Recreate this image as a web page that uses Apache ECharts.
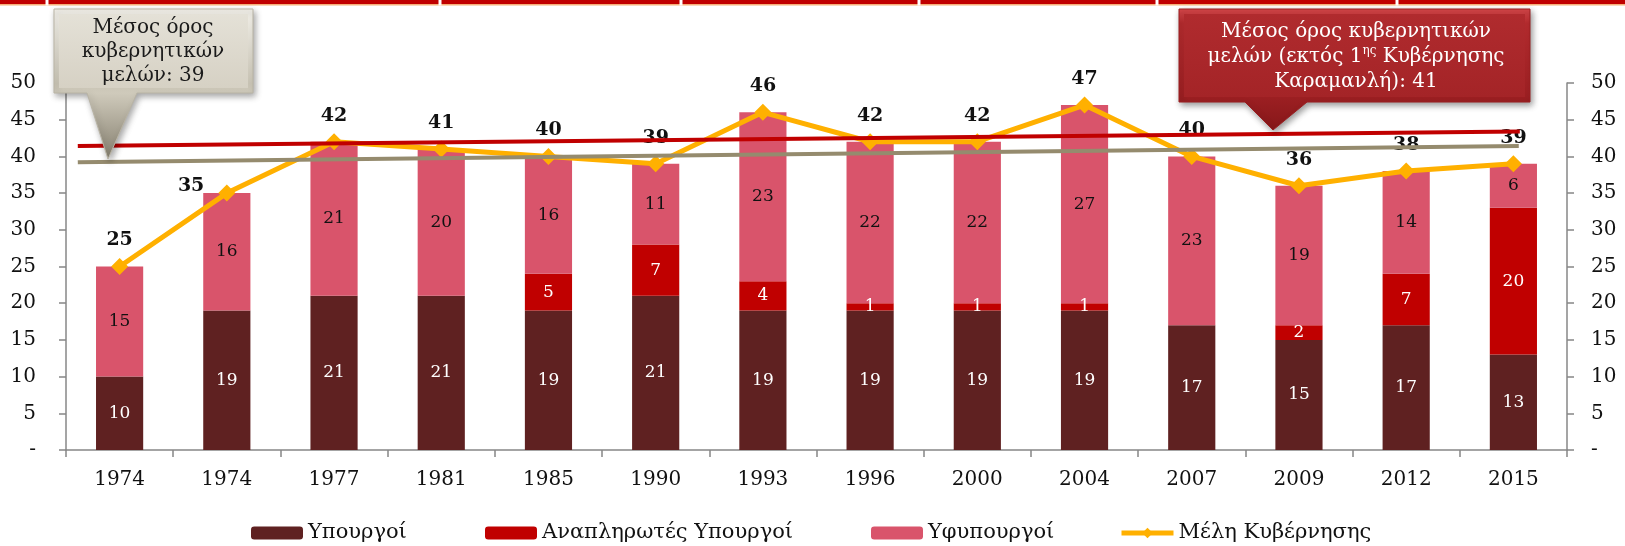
<!DOCTYPE html>
<html><head><meta charset="utf-8">
<script src="https://cdn.jsdelivr.net/npm/echarts@6/dist/echarts.min.js"></script>
<style>html,body{margin:0;padding:0;background:#fff}#c{width:1625px;height:546px}</style>
</head><body><div id="c"></div>
<script>
// ---- data ----
const categories = ['1974','1974','1977','1981','1985','1990','1993','1996','2000','2004','2007','2009','2012','2015'];
const ministers = [10,19,21,21,19,21,19,19,19,19,17,15,17,13];
const alternateMinisters = [0,0,0,0,5,7,4,1,1,1,0,2,7,20];
const deputyMinisters = [15,16,21,20,16,11,23,22,22,27,23,19,14,6];
const governmentMembers = [25,35,42,41,40,39,46,42,42,47,40,36,38,39];
const avgAllLine = [[0.11,39.2],[13.55,41.4]];     // drawn average line (all governments)
const avgExclLine = [[0.11,41.4],[13.56,43.4]];    // drawn average line (excl. 1st Karamanlis)
const seriesNames = ['Υπουργοί','Αναπληρωτές Υπουργοί','Υφυπουργοί','Μέλη Κυβέρνησης'];
const yTickLabel = v => v === 0 ? '-' : String(v);

const FONT = 'DejaVu Serif';
const chart = echarts.init(document.getElementById('c'), null, {renderer:'canvas'});

// per-point label placement (layout only)
const labelOverride = {1: {position:'left', distance:14, offset:[0,-7]}};
const totalData = governmentMembers.map((v,i) => labelOverride[i] ? {value:v, label:labelOverride[i]} : v);

const axisGray = '#878787';
const yAxisCommon = {
  type:'value', min:0, max:50, interval:5,
  axisLine:{show:true, lineStyle:{color:axisGray, width:1.5}},
  axisTick:{show:true, length:7, lineStyle:{color:axisGray, width:1.5}},
  splitLine:{show:false},
  axisLabel:{formatter:yTickLabel, color:'#111', fontFamily:FONT, fontSize:20}
};

function legendAt(name, left){
  return {data:[name], left:left, top:521, padding:0, itemWidth:52, itemHeight:13, itemGap:0,
    lineStyle:{width:5}, textStyle:{fontFamily:FONT, fontSize:21, color:'#111', lineHeight:24}, selectedMode:false};
}

const option = {
  animation:false,
  backgroundColor:'#fff',
  grid:{left:66, right:58, top:83, bottom:96, containLabel:false},
  legend:[
    legendAt(seriesNames[0], 251),
    legendAt(seriesNames[1], 485),
    legendAt(seriesNames[2], 871),
    legendAt(seriesNames[3], 1119)
  ],
  xAxis:[
    {type:'category', data:categories, boundaryGap:true,
     axisLine:{show:true, lineStyle:{color:axisGray, width:1.5}},
     axisTick:{show:true, length:7, alignWithLabel:false, lineStyle:{color:axisGray, width:1.5}},
     axisLabel:{color:'#111', fontFamily:FONT, fontSize:20, margin:20}},
    {type:'value', min:0, max:14, show:false}
  ],
  yAxis:[
    Object.assign({}, yAxisCommon, {position:'left', axisLabel:Object.assign({}, yAxisCommon.axisLabel, {margin:30})}),
    Object.assign({}, yAxisCommon, {position:'right', axisLabel:Object.assign({}, yAxisCommon.axisLabel, {margin:24})})
  ],
  series:[
    {name:seriesNames[0], type:'bar', stack:'g', data:ministers, barWidth:'44%',
     itemStyle:{color:'#5F2121'},
     label:{show:true, position:'inside', color:'#fff', fontFamily:FONT, fontSize:17,
            formatter:p => p.value ? p.value : ''}},
    {name:seriesNames[1], type:'bar', stack:'g', data:alternateMinisters, barWidth:'44%',
     itemStyle:{color:'#C00000'},
     label:{show:true, position:'inside', color:'#fff', fontFamily:FONT, fontSize:17,
            formatter:p => p.value ? p.value : ''}},
    {name:seriesNames[2], type:'bar', stack:'g', data:deputyMinisters, barWidth:'44%',
     itemStyle:{color:'#D9546B'},
     label:{show:true, position:'inside', color:'#111', fontFamily:FONT, fontSize:17,
            formatter:p => p.value ? p.value : ''}},
    {name:seriesNames[3], type:'line', data:totalData, z:5,
     lineStyle:{color:'#FFB000', width:5}, itemStyle:{color:'#FFB000'},
     symbol:'diamond', symbolSize:[17,17], showSymbol:true,
     label:{show:true, position:'top', distance:8, color:'#111', fontFamily:FONT, fontSize:19, fontWeight:'bold'}},
    {name:'avgAll', type:'line', xAxisIndex:1, data:avgAllLine, z:20, symbol:'none',
     lineStyle:{color:'#958B6E', width:4}, silent:true},
    {name:'avgExcl', type:'line', xAxisIndex:1, data:avgExclLine, z:20, symbol:'none',
     lineStyle:{color:'#C00000', width:4}, silent:true}
  ],
  graphic:[
    // top strip (table edge above the chart)
    {type:'rect', shape:{x:0, y:0, width:1625, height:4}, style:{fill:'#C00000'}, z:50},
    {type:'rect', shape:{x:0, y:4, width:1625, height:1.5}, style:{fill:'#F6B07A'}, z:50},
    ...[47,440,681,919,1157,1397].map(x => ({type:'rect', shape:{x:x-1.5, y:0, width:3, height:5.5}, style:{fill:'#fff'}, z:51})),
    // left callout
    {type:'polygon', z:100,
     shape:{points:[[54,9],[253,9],[253,93],[137,93],[108,159],[87,93],[54,93]]},
     style:{fill:new echarts.graphic.LinearGradient(0,0,0,1,[
       {offset:0, color:'#F3F1EA'},{offset:0.5, color:'#C9C4B5'},{offset:0.56, color:'#CFCABB'},{offset:1, color:'#857F6F'}]),
       stroke:'#B9B4A5', lineWidth:1,
       shadowColor:'rgba(0,0,0,0.35)', shadowBlur:6, shadowOffsetX:2, shadowOffsetY:3}},
    {type:'rect', z:100.5, shape:{x:59, y:14, width:189, height:74},
     style:{fill:new echarts.graphic.LinearGradient(0,0,0,1,[{offset:0,color:'#E4E1D7'},{offset:1,color:'#D6D1C4'}])}},
    {type:'text', z:101, x:153, y:52,
     style:{text:'Μέσος όρος\nκυβερνητικών\nμελών: 39', fill:'#1a1a1a', font:'20px "DejaVu Serif"',
            align:'center', verticalAlign:'middle', lineHeight:24}},
    // right callout
    {type:'polygon', z:100,
     shape:{points:[[1179,9],[1530,9],[1530,102],[1307,102],[1273,130],[1245,102],[1179,102]]},
     style:{fill:new echarts.graphic.LinearGradient(0,0,0,1,[
       {offset:0, color:'#D8484B'},{offset:0.12, color:'#B42B2E'},{offset:0.7, color:'#9E2023'},{offset:1, color:'#861719'}]),
       stroke:'#9A1E21', lineWidth:1,
       shadowColor:'rgba(0,0,0,0.4)', shadowBlur:6, shadowOffsetX:2, shadowOffsetY:3}},
    {type:'rect', z:100.5, shape:{x:1184, y:14, width:341, height:83},
     style:{fill:new echarts.graphic.LinearGradient(0,0,0,1,[{offset:0,color:'#B02B2E'},{offset:1,color:'#A42427'}])}},
    {type:'text', z:101, x:1356, y:57,
     style:{text:'Μέσος όρος κυβερνητικών\nμελών (εκτός 1{s|ης} Κυβέρνησης\nΚαραμανλή): 41', fill:'#fff',
            font:'20px "DejaVu Serif"', fontFamily:FONT, fontSize:20,
            align:'center', verticalAlign:'middle', lineHeight:25,
            rich:{s:{fontSize:12, fontFamily:FONT, fill:'#fff', verticalAlign:'top', lineHeight:25}}}}
  ]
};
chart.setOption(option);
</script></body></html>
